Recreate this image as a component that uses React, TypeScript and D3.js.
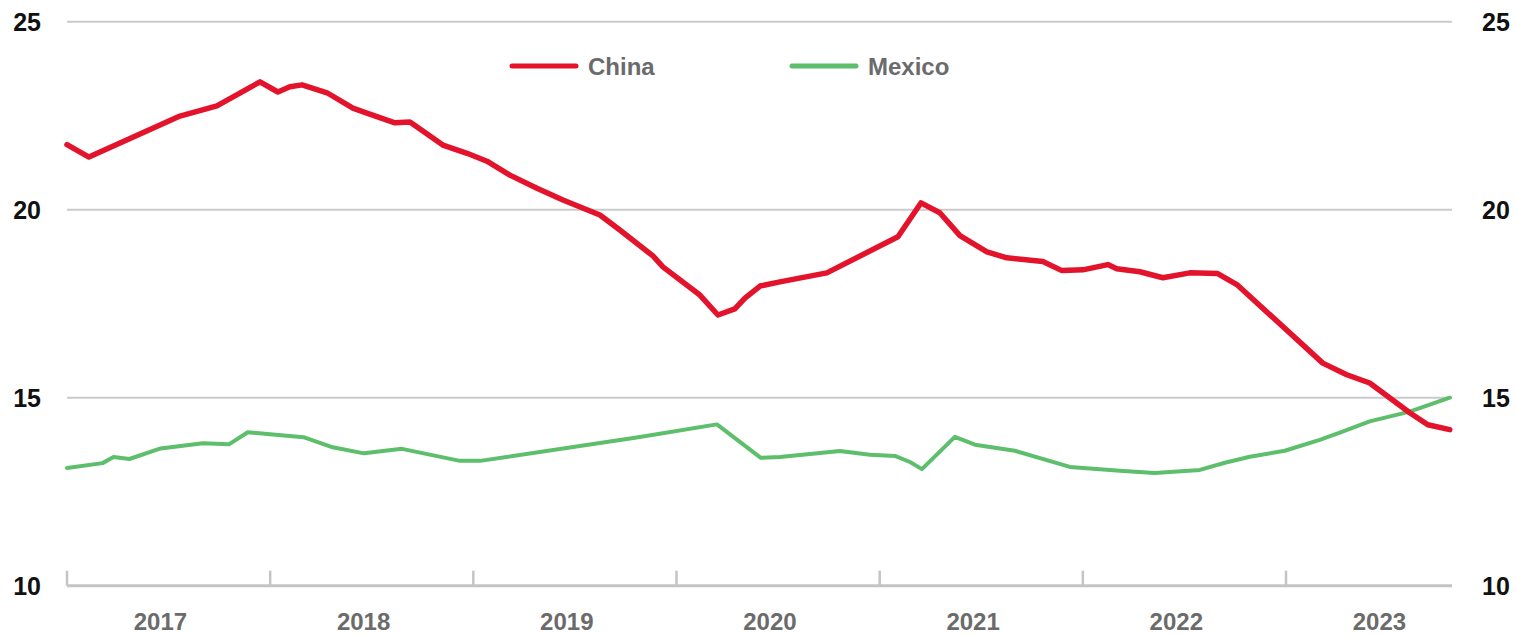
import React from "react";
import * as d3 from "d3";

// Decimal-year positions and values (% share)
const chinaT = [2017.0, 2017.108, 2017.556, 2017.738, 2017.95, 2018.038, 2018.097, 2018.157, 2018.28, 2018.407, 2018.476, 2018.614, 2018.688, 2018.85, 2018.969, 2019.067, 2019.18, 2019.313, 2019.441, 2019.623, 2019.721, 2019.884, 2019.933, 2020.115, 2020.204, 2020.287, 2020.337, 2020.411, 2020.509, 2020.74, 2021.09, 2021.203, 2021.296, 2021.395, 2021.528, 2021.626, 2021.803, 2021.897, 2022.0, 2022.123, 2022.167, 2022.281, 2022.394, 2022.527, 2022.664, 2022.758, 2023.181, 2023.299, 2023.412, 2023.609, 2023.698, 2023.806];
const chinaV = [21.73, 21.4, 22.49, 22.76, 23.4, 23.13, 23.27, 23.32, 23.11, 22.7, 22.57, 22.31, 22.33, 21.72, 21.5, 21.29, 20.92, 20.57, 20.26, 19.86, 19.46, 18.77, 18.48, 17.73, 17.2, 17.36, 17.65, 17.97, 18.08, 18.32, 19.28, 20.18, 19.92, 19.31, 18.88, 18.72, 18.62, 18.38, 18.4, 18.54, 18.43, 18.35, 18.19, 18.32, 18.3, 18.01, 15.92, 15.61, 15.39, 14.6, 14.28, 14.15];

const mexicoT = [2017.0, 2017.175, 2017.229, 2017.307, 2017.461, 2017.669, 2017.797, 2017.89, 2017.999, 2018.164, 2018.308, 2018.462, 2018.649, 2018.934, 2019.033, 2019.804, 2020.199, 2020.415, 2020.509, 2020.804, 2020.952, 2021.075, 2021.149, 2021.208, 2021.37, 2021.469, 2021.665, 2021.936, 2022.182, 2022.354, 2022.576, 2022.699, 2022.822, 2022.994, 2023.166, 2023.265, 2023.412, 2023.609, 2023.806];
const mexicoV = [13.13, 13.26, 13.42, 13.37, 13.65, 13.79, 13.76, 14.08, 14.03, 13.95, 13.68, 13.52, 13.64, 13.32, 13.32, 13.94, 14.29, 13.4, 13.42, 13.58, 13.48, 13.45, 13.29, 13.1, 13.96, 13.75, 13.59, 13.16, 13.06, 13.0, 13.08, 13.27, 13.43, 13.59, 13.88, 14.07, 14.37, 14.63, 15.0];

const yTicks = [10, 15, 20, 25];
const years = [2017, 2018, 2019, 2020, 2021, 2022, 2023];
const seriesNames = ["China", "Mexico"];
const seriesColors = ["#e3132c", "#5dbe6b"];

const W = 1516;
const H = 636;

export default function App() {
  const x = d3.scaleLinear().domain([2017, 2023.817]).range([67, 1452]);
  const y = d3.scaleLinear().domain([10, 25]).range([585.7, 21.7]);

  const line = d3
    .line<[number, number]>()
    .x((d) => x(d[0]))
    .y((d) => y(d[1]));

  const china = chinaT.map((t, i) => [t, chinaV[i]] as [number, number]);
  const mexico = mexicoT.map((t, i) => [t, mexicoV[i]] as [number, number]);

  const font = "'Liberation Sans', Arial, sans-serif";
  const legendX = [512, 792];

  return (
    <svg
      width={W}
      height={H}
      style={{ position: "absolute", left: 0, top: 0, display: "block", background: "#fff" }}
      fontFamily={font}
    >
      {/* gridlines */}
      {yTicks
        .filter((t) => t !== 10)
        .map((t) => (
          <line key={t} x1={x(2017)} x2={x.range()[1]} y1={y(t)} y2={y(t)} stroke="#cbcbcb" strokeWidth={2} />
        ))}
      {/* x axis */}
      <line x1={x(2017)} x2={x.range()[1]} y1={y(10)} y2={y(10)} stroke="#c4c4c4" strokeWidth={3} />
      {years.map((yr) => (
        <line key={yr} x1={x(yr)} x2={x(yr)} y1={y(10)} y2={y(10) - 15} stroke="#c4c4c4" strokeWidth={2.5} />
      ))}
      {years.map((yr) => (
        <text
          key={yr}
          x={x(yr + 0.46)}
          y={630}
          textAnchor="middle"
          fontSize={24}
          fontWeight="bold"
          fill="#6b6b6b"
        >
          {yr}
        </text>
      ))}
      {/* y labels */}
      {yTicks.map((t) => (
        <g key={t}>
          <text x={41} y={y(t) + 9} textAnchor="end" fontSize={25} fontWeight="bold" fill="#111">
            {t}
          </text>
          <text x={1482} y={y(t) + 9} textAnchor="start" fontSize={25} fontWeight="bold" fill="#111">
            {t}
          </text>
        </g>
      ))}
      {/* lines */}
      <path d={line(mexico) || ""} fill="none" stroke={seriesColors[1]} strokeWidth={4} strokeLinejoin="round" strokeLinecap="round" />
      <path d={line(china) || ""} fill="none" stroke={seriesColors[0]} strokeWidth={5.5} strokeLinejoin="round" strokeLinecap="round" />
      {/* legend */}
      {seriesNames.map((n, i) => (
        <g key={n}>
          <line x1={legendX[i]} x2={legendX[i] + 64} y1={66} y2={66} stroke={seriesColors[i]} strokeWidth={5} strokeLinecap="round" />
          <text x={legendX[i] + 76} y={75} fontSize={24} fontWeight="bold" fill="#6b6b6b">
            {n}
          </text>
        </g>
      ))}
    </svg>
  );
}
